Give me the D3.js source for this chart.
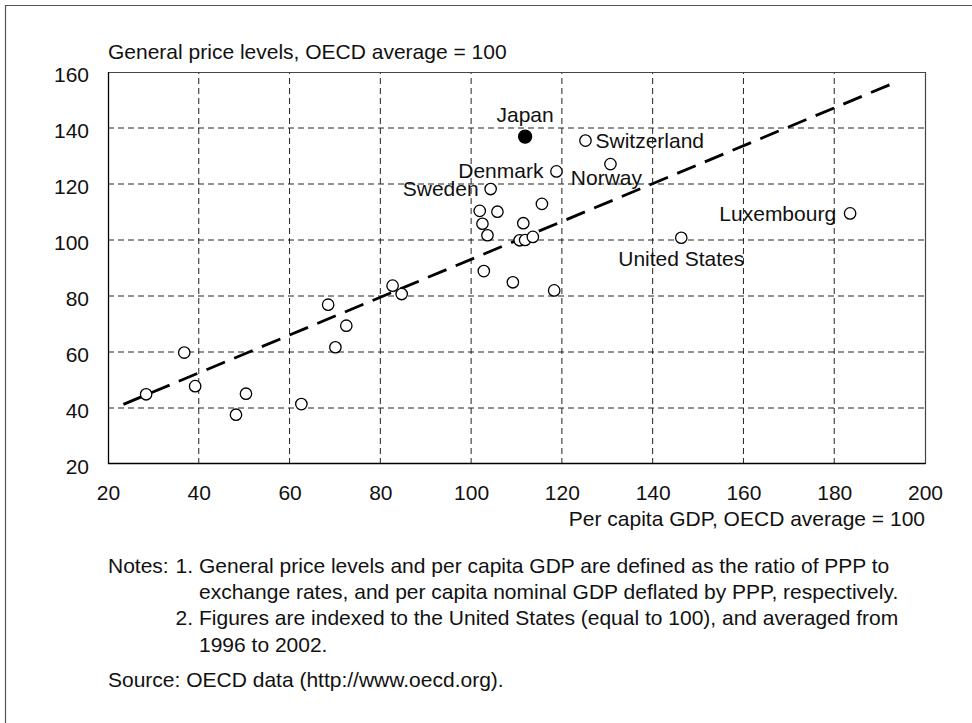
<!DOCTYPE html>
<html>
<head>
<meta charset="utf-8">
<script src="https://cdn.jsdelivr.net/npm/d3@7"></script>
<style>
  body { margin: 0; background: #fff; }
  svg { display: block; font-family: "Liberation Sans", Arial, Helvetica, sans-serif; }
  .grid line { stroke: #222; stroke-width: 1; stroke-dasharray: 6,4; }
  .axis text { font-size: 21px; fill: #111; }
  .axis path { display: none; }
  .lbl { font-size: 21px; fill: #111; }
</style>
</head>
<body>
<script>
// per capita GDP (x) and general price level (y), OECD average = 100
var pcGdp    = [28.4, 36.8, 39.2, 48.2, 50.4, 62.6, 68.5, 70.1, 72.5, 82.7,
                84.7, 101.9, 102.5, 103.6, 104.3, 105.8, 102.8, 109.2, 110.7, 111.9,
                113.6, 111.5, 115.6, 118.3, 118.8, 125.2, 130.7, 146.3, 183.5, 111.9];
var priceLvl = [44.9, 59.8, 47.8, 37.6, 45.1, 41.4, 76.9, 61.7, 69.4, 83.7,
                80.7, 110.4, 105.8, 101.7, 118.2, 110.1, 88.9, 84.9, 99.9, 100.0,
                101.1, 106.0, 112.9, 82.0, 124.5, 135.5, 127.1, 100.8, 109.5, 136.9];
var country  = ["", "", "", "", "", "", "", "", "", "",
                "", "", "", "", "Sweden", "", "", "", "", "",
                "", "", "", "", "Denmark", "Switzerland", "Norway", "United States", "Luxembourg", "Japan"];
var highlight = "Japan";

// fitted line end points
var trendX = [23.4, 193.2];
var trendY = [41.3, 156.1];

var xTicks = [20, 40, 60, 80, 100, 120, 140, 160, 180, 200];
var yTicks = [20, 40, 60, 80, 100, 120, 140, 160];

var yTitle = "General price levels, OECD average = 100";
var xTitle = "Per capita GDP, OECD average = 100";
var notes = [
  "General price levels and per capita GDP are defined as the ratio of PPP to",
  "exchange rates, and per capita nominal GDP deflated by PPP, respectively.",
  "Figures are indexed to the United States (equal to 100), and averaged from",
  "1996 to 2002."
];
var source = "Source: OECD data (http://www.oecd.org).";

// where each country name sits relative to its point
var labelPos = {
  "Japan":         { anchor: "middle", dx: 0,   dy: -15 },
  "Switzerland":   { anchor: "start",  dx: 10,  dy: 7 },
  "Denmark":       { anchor: "end",    dx: -13, dy: 7 },
  "Sweden":        { anchor: "end",    dx: -12, dy: 7 },
  "Norway":        { anchor: "middle", dx: -4,  dy: 21 },
  "United States": { anchor: "middle", dx: 0,   dy: 28 },
  "Luxembourg":    { anchor: "end",    dx: -14, dy: 8 }
};

var W = 972, H = 723;
var margin = { top: 72, right: 47, bottom: 259, left: 108 },
    width = W - margin.left - margin.right,
    height = H - margin.top - margin.bottom;

var svg = d3.select("body").append("svg")
   .attr("width", W)
   .attr("height", H);

// outer frame (top and left edges only)
svg.append("path")
   .attr("d", "M5.5," + H + "V5.5H" + W)
   .attr("fill", "none")
   .attr("stroke", "#555")
   .attr("stroke-width", 1.2);

var g = svg.append("g")
   .attr("transform", "translate(" + margin.left + "," + margin.top + ")");

var x = d3.scaleLinear().domain([20, 200]).range([0, width]);
var y = d3.scaleLinear().domain([20, 160]).range([height, 0]);

var data = pcGdp.map(function(v, i) {
   return { gdp: v, price: priceLvl[i], name: country[i] };
});

// dashed grid
g.append("g")
   .attr("class", "grid")
   .selectAll("line")
   .data(xTicks.slice(1, -1))
   .join("line")
   .attr("x1", function(d) { return x(d); })
   .attr("x2", function(d) { return x(d); })
   .attr("y1", height)
   .attr("y2", 0);

g.append("g")
   .attr("class", "grid")
   .selectAll("line")
   .data(yTicks.slice(1, -1))
   .join("line")
   .attr("y1", function(d) { return y(d); })
   .attr("y2", function(d) { return y(d); })
   .attr("x1", 0)
   .attr("x2", width);

// plot frame: top/right grey, left/bottom black
g.append("path")
   .attr("d", "M0,0.5H" + (width + 0.5) + "V" + height)
   .attr("fill", "none")
   .attr("stroke", "#444")
   .attr("stroke-width", 1.2);
g.append("path")
   .attr("d", "M0.5,0V" + (height - 0.5) + "H" + (width + 0.5))
   .attr("fill", "none")
   .attr("stroke", "#000")
   .attr("stroke-width", 1.3);

// axes (labels only)
g.append("g")
   .attr("class", "axis")
   .attr("transform", "translate(0," + height + ")")
   .call(d3.axisBottom(x).tickValues(xTicks).tickSize(0).tickPadding(21));

g.append("g")
   .attr("class", "axis")
   .call(d3.axisLeft(y).tickValues(yTicks).tickSize(0).tickPadding(19))
   .selectAll("text")
   .attr("dy", "0.43em");

// axis titles
svg.append("text")
   .attr("class", "lbl")
   .attr("x", margin.left)
   .attr("y", 59)
   .text(yTitle);

svg.append("text")
   .attr("class", "lbl")
   .attr("x", margin.left + width)
   .attr("y", 526)
   .attr("text-anchor", "end")
   .text(xTitle);

// regression line
var line = d3.line()
   .x(function(d) { return x(d[0]); })
   .y(function(d) { return y(d[1]); });

g.append("path")
   .datum(trendX.map(function(v, i) { return [v, trendY[i]]; }))
   .attr("d", line)
   .attr("fill", "none")
   .attr("stroke", "#000")
   .attr("stroke-width", 2.8)
   .attr("stroke-dasharray", "20,10");

// points
g.selectAll("circle.pt")
   .data(data)
   .join("circle")
   .attr("class", "pt")
   .attr("cx", function(d) { return x(d.gdp); })
   .attr("cy", function(d) { return y(d.price); })
   .attr("r", function(d) { return d.name === highlight ? 6.5 : 5.7; })
   .attr("fill", function(d) { return d.name === highlight ? "#000" : "#fff"; })
   .attr("stroke", "#000")
   .attr("stroke-width", 1.3);

// country labels
g.selectAll("text.country")
   .data(data.filter(function(d) { return d.name; }))
   .join("text")
   .attr("class", "lbl country")
   .attr("x", function(d) { return x(d.gdp) + labelPos[d.name].dx; })
   .attr("y", function(d) { return y(d.price) + labelPos[d.name].dy; })
   .attr("text-anchor", function(d) { return labelPos[d.name].anchor; })
   .text(function(d) { return d.name; });

// notes
var notesG = svg.append("g");
notesG.append("text").attr("class", "lbl").attr("x", 108).attr("y", 573).text("Notes:");
notesG.append("text").attr("class", "lbl").attr("x", 193).attr("y", 573)
   .attr("text-anchor", "end").text("1.");
notesG.append("text").attr("class", "lbl").attr("x", 193).attr("y", 625)
   .attr("text-anchor", "end").text("2.");
notesG.selectAll("text.note")
   .data(notes)
   .join("text")
   .attr("class", "lbl note")
   .attr("x", 199)
   .attr("y", function(d, i) { return 573 + i * 26.2; })
   .text(function(d) { return d; });

svg.append("text")
   .attr("class", "lbl")
   .attr("x", 108)
   .attr("y", 687)
   .text(source);
</script>
</body>
</html>
